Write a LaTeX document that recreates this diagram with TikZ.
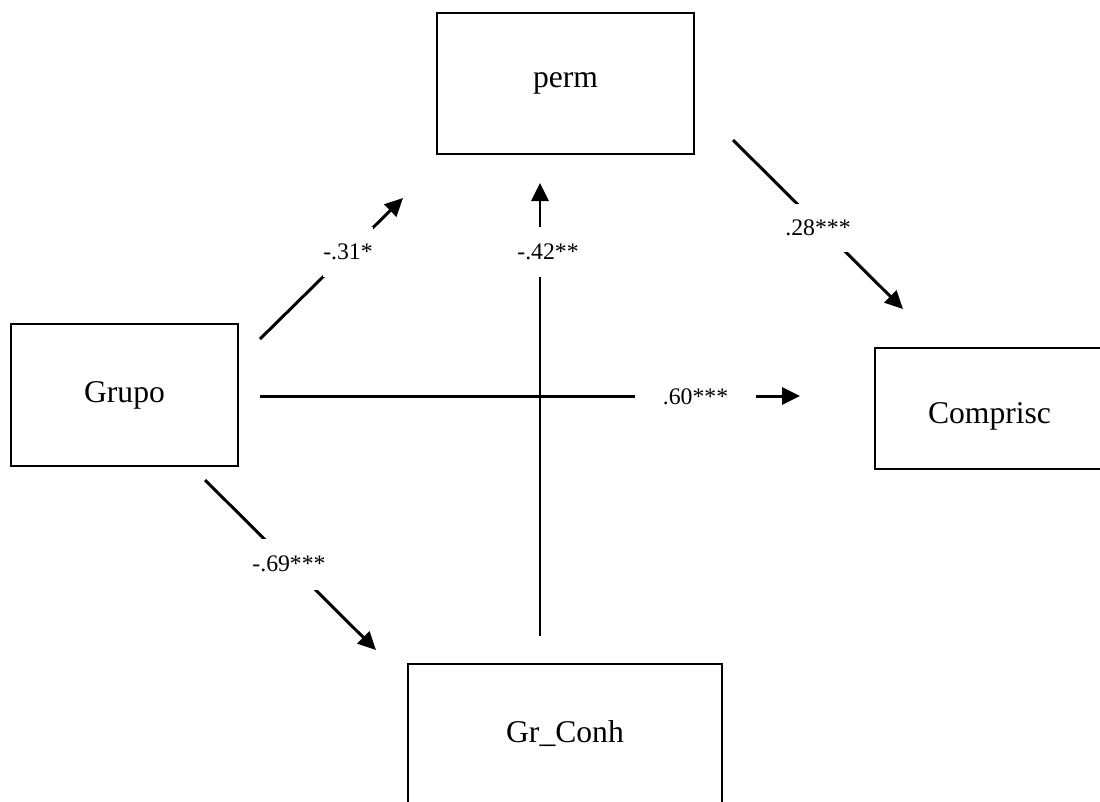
\documentclass[tikz,border=0pt]{standalone}
\usepackage{fontspec}
\setmainfont{Liberation Serif}
\usetikzlibrary{arrows.meta}
\begin{document}
\begin{tikzpicture}[x=0.02cm,y=-0.02cm,
  box/.style={draw,line width=1.2pt,inner sep=0pt,font=\fontsize{18}{21}\selectfont},
  conn/.style={line width=1.7pt,line cap=butt},
  arr/.style={conn,-{Triangle[length=0.36cm,width=0.34cm]}},
  lbl/.style={fill=white,inner sep=0pt,font=\fontsize{13.5}{16}\selectfont}]
\useasboundingbox (0,0) rectangle (1100,802);
% boxes
\node[box,minimum width=5.14cm,minimum height=2.82cm] (perm) at (565.5,83.5) {perm};
\node[box,minimum width=4.55cm,minimum height=2.84cm] (grupo) at (124.5,395) {Grupo};
\node[box,minimum width=4.58cm,minimum height=2.42cm] (comprisc) at (989.5,408.5) {\raisebox{-0.16cm}[\height][\depth]{Comprisc}};
\node[box,minimum width=6.28cm,minimum height=2.92cm] (grconh) at (565,737) {\raisebox{0.06cm}[\height][\depth]{Gr\_Conh}};
% connector ends
\coordinate (a1) at (260,339);  \coordinate (a2) at (403,198);
\coordinate (b1) at (540,636);  \coordinate (b2) at (540,183);
\coordinate (c1) at (733,140);  \coordinate (c2) at (903,309);
\coordinate (d1) at (260,396);  \coordinate (d2) at (800,396);
\coordinate (e1) at (205,480);  \coordinate (e2) at (376,650);
% connectors
\draw[arr] (a1) -- (a2);
\draw[arr] (b1) -- (b2);
\draw[arr] (c1) -- (c2);
\draw[arr] (d1) -- (d2);
\draw[arr] (e1) -- (e2);
% labels (white boxes make the gaps in the lines)
\node[lbl,minimum width=1cm,minimum height=1cm] (l1) at (348,252) {-.31*};
\node[lbl,minimum width=1.3cm,minimum height=1cm] (l2) at (548,252) {-.42**};
\node[lbl,minimum width=1.3cm,minimum height=0.96cm] (l3) at (818,228) {.28***};
\node[lbl,minimum width=2.42cm,minimum height=0.5cm] (l4) at (695.5,397) {.60***};
\node[lbl,minimum width=1.4cm,minimum height=1.02cm] (l5) at (289,564) {-.69***};
\end{tikzpicture}
\end{document}
